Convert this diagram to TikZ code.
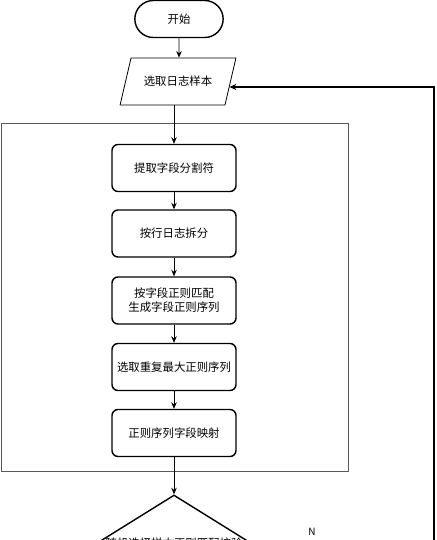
\documentclass[tikz,border=0pt]{standalone}
\usepackage{fontspec}
\setmainfont{Noto Sans CJK SC}
\usetikzlibrary{shapes.geometric,shapes.misc,arrows.meta}

\begin{document}
\begin{tikzpicture}[x=1pt,y=-1pt,
    font=\fontsize{11.4}{14}\selectfont,
    stepbox/.style={draw,line width=1.4pt,rounded corners=6pt,minimum width=124pt,minimum height=47pt,align=center},
    arr/.style={-{Stealth[length=6.5pt,width=5.5pt]},line width=0.8pt}]

    % Fix the page to the size of the reference
    \useasboundingbox (0,0) rectangle (436,540);

    % Define the x position of the column of steps
    \def\X{174}

    % Start and the sample input
    \node[draw,rounded rectangle,line width=1.4pt,minimum width=95pt,minimum height=37pt] (start) at (179,19) {开始};
    \node[draw,trapezium,trapezium left angle=63,trapezium right angle=117,trapezium stretches=true,
          minimum width=116pt,minimum height=47pt,line width=0.8pt] (sample) at (178,81.5) {选取日志样本};

    % The grey frame round the steps
    \node[draw=black!65,line width=1pt,minimum width=347pt,minimum height=347pt,inner sep=0pt] (frame) at (174.5,297.5) {};

    % The steps inside the frame
    \node[stepbox] (split) at (\X,168) {提取字段分割符};
    \node[stepbox] (lines) at (\X,233.5) {按行日志拆分};
    \node[stepbox] (match) at (\X,300.5) {按字段正则匹配\\生成字段正则序列};
    \node[stepbox] (maxseq) at (\X,367) {选取重复最大正则序列};
    \node[stepbox] (mapping) at (\X,433) {正则序列字段映射};

    % The check, cut off at the bottom of the page
    \node[draw,diamond,line width=1.4pt,minimum width=154pt,minimum height=96pt,inner sep=0pt] (check) at (\X,543) {};
    \node (checktxt) at (check) {随机选择样本正则匹配校验};
    \node[font=\fontsize{10}{12}\selectfont] (nlab) at (312,532) {N};

    % Arrows down the chart
    \draw[arr] (start) -- (start |- sample.north);
    \draw[arr] (split.north |- sample.south) -- (split);
    \foreach \a/\b in {split/lines,lines/match,match/maxseq,maxseq/mapping}
        \draw[arr] (\a) -- (\b);
    \draw[arr] (mapping) -- (check);

    % The way back to the sample
    \coordinate (back) at (434,87);
    \draw[-{Stealth[length=7pt,width=6pt]},line width=1.2pt] (check.east) -| (back) -- (back -| sample.-7);

\end{tikzpicture}
\end{document}
